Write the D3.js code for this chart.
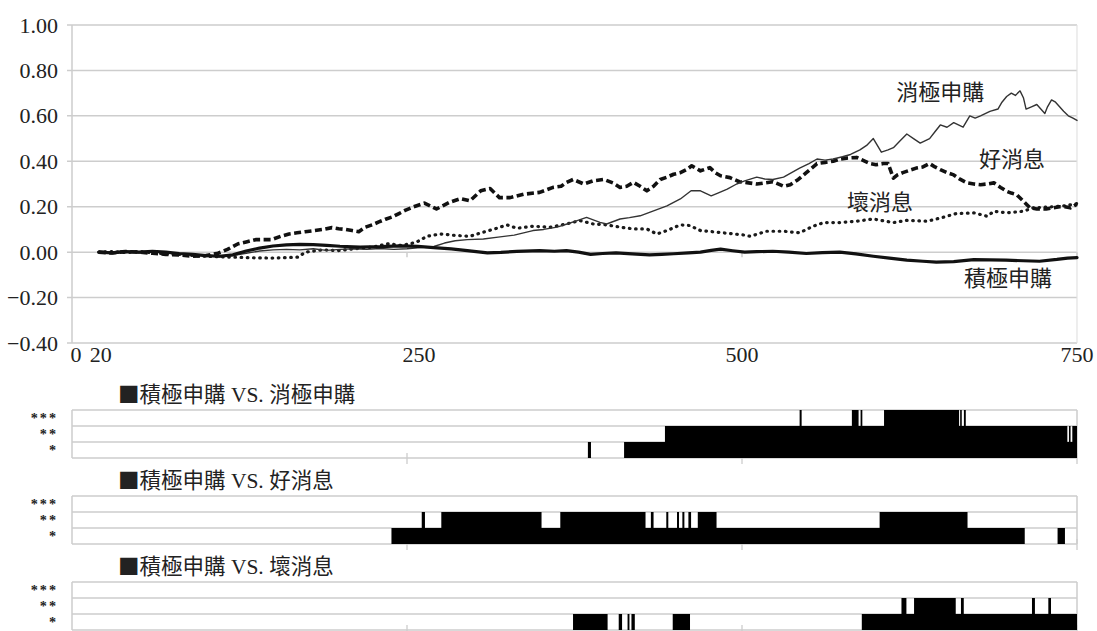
<!DOCTYPE html>
<html>
<head>
<meta charset="utf-8">
<script src="https://cdn.jsdelivr.net/npm/d3@7"></script>
<style>
  html, body { margin: 0; padding: 0; background: #fff; }
  svg { display: block; }
  .serif { font-family: "Liberation Serif", "Times New Roman", Times, "DejaVu Serif", serif; }
  .cjk { font-family: "Noto Sans CJK TC", "Noto Sans CJK SC", sans-serif; }
</style>
</head>
<body>
<svg id="chart" width="1097" height="631"></svg>
<script>
// ---- cumulative return series: [trading day, value] ----
const activeBuy = [[20,0],[30,-0.003],[40,0.002],[50,0],[60,0.004],[70,0],[80,-0.006],[90,-0.01],[100,-0.015],[110,-0.018],[120,-0.012],[130,0.005],[140,0.018],[150,0.027],[160,0.032],[170,0.034],[180,0.033],[190,0.03],[200,0.026],[215,0.022],[230,0.024],[245,0.028],[258,0.025],[270,0.02],[283,0.014],[295,0.007],[310,-0.003],[320,-0.001],[332,0.003],[349,0.007],[360,0.004],[369,0.007],[378,0],[387,-0.01],[396,-0.006],[406,-0.003],[418,-0.008],[431,-0.012],[440,-0.01],[449,-0.007],[460,-0.003],[469,0],[477,0.008],[484,0.013],[493,0.006],[502,0],[511,0.002],[523,0.004],[535,0],[548,-0.006],[560,-0.002],[573,0],[585,-0.008],[598,-0.018],[610,-0.026],[623,-0.035],[635,-0.04],[645,-0.044],[658,-0.042],[673,-0.033],[685,-0.034],[697,-0.035],[710,-0.038],[722,-0.04],[735,-0.032],[743,-0.026],[750,-0.024]];

const passiveBuy = [[20,0],[30,-0.005],[40,0.002],[50,-0.004],[60,0.003],[70,-0.003],[80,-0.008],[90,-0.012],[100,-0.016],[110,-0.02],[120,-0.015],[130,-0.005],[140,0.005],[150,0.01],[160,0.012],[170,0.01],[180,0.015],[190,0.008],[200,0.012],[210,0.015],[220,0.012],[230,0.016],[240,0.012],[250,0.015],[260,0.02],[270,0.025],[278,0.04],[286,0.05],[295,0.055],[307,0.058],[318,0.066],[330,0.075],[337,0.085],[344,0.095],[352,0.1],[362,0.11],[370,0.125],[377,0.139],[384,0.153],[390,0.14],[394,0.131],[399,0.124],[404,0.135],[409,0.146],[416,0.152],[424,0.16],[434,0.182],[444,0.204],[454,0.234],[462,0.27],[469,0.27],[477,0.248],[482,0.26],[489,0.277],[496,0.3],[502,0.314],[511,0.33],[517,0.322],[523,0.32],[531,0.33],[537,0.35],[543,0.37],[550,0.39],[556,0.41],[562,0.405],[568,0.41],[575,0.42],[581,0.43],[588,0.45],[593,0.47],[598,0.5],[604,0.44],[609,0.45],[613,0.46],[618,0.49],[623,0.52],[628,0.5],[633,0.48],[640,0.5],[644,0.53],[648,0.56],[653,0.55],[658,0.57],[665,0.55],[670,0.6],[674,0.59],[678,0.6],[685,0.62],[691,0.63],[694,0.66],[697.5,0.685],[701,0.7],[704,0.69],[707.5,0.71],[710,0.68],[712,0.63],[716,0.64],[720,0.65],[723,0.63],[726,0.61],[728,0.64],[731,0.67],[734,0.66],[737,0.64],[740,0.62],[743.5,0.6],[747,0.59],[750,0.58]];

const goodNews = [[20,0],[30,-0.004],[40,0.003],[50,0],[60,-0.005],[70,-0.01],[80,-0.012],[90,-0.018],[100,-0.015],[109,-0.005],[116,0.012],[124,0.037],[130,0.045],[137,0.055],[143,0.055],[149,0.055],[156,0.07],[162,0.08],[168,0.085],[174,0.09],[181,0.095],[187,0.1],[194,0.108],[199,0.103],[204,0.1],[209,0.095],[214,0.09],[219,0.11],[224,0.12],[229,0.133],[234,0.145],[239,0.155],[244,0.17],[249,0.185],[255,0.2],[263,0.216],[272,0.19],[277,0.205],[282,0.22],[290,0.236],[297,0.226],[305,0.27],[312,0.28],[319,0.24],[327,0.24],[337,0.255],[349,0.263],[359,0.285],[365,0.29],[369,0.307],[374,0.32],[378,0.31],[382,0.3],[389,0.314],[397,0.32],[404,0.304],[409,0.285],[414,0.29],[419,0.307],[424,0.29],[429,0.27],[434,0.29],[439,0.32],[444,0.33],[449,0.343],[454,0.35],[459,0.365],[462.5,0.38],[469,0.358],[476,0.372],[480,0.35],[484,0.336],[491,0.328],[498,0.31],[505,0.305],[511,0.3],[517,0.305],[523,0.31],[531,0.29],[536,0.297],[542,0.32],[548,0.35],[552,0.37],[556,0.39],[562,0.395],[568,0.4],[573,0.41],[578,0.414],[585.5,0.417],[590,0.405],[595.5,0.39],[600,0.385],[605.5,0.39],[609,0.39],[613,0.326],[616,0.34],[620,0.35],[625,0.36],[630,0.37],[635,0.375],[640,0.39],[644,0.375],[648,0.363],[653,0.35],[658,0.34],[663,0.32],[668,0.305],[673,0.3],[678,0.297],[683,0.3],[688,0.305],[693,0.285],[697.5,0.268],[701,0.26],[705,0.253],[710,0.224],[715,0.195],[720,0.19],[727,0.19],[732,0.195],[737,0.2],[741,0.2],[745,0.195],[748,0.205],[750,0.21]];

const badNews = [[20,0],[30,0.003],[40,-0.002],[50,0.002],[60,-0.003],[70,-0.008],[80,-0.01],[90,-0.015],[100,-0.018],[110,-0.02],[119,-0.022],[130,-0.024],[137,-0.025],[149,-0.026],[160,-0.024],[169,-0.022],[174,0],[187,0.01],[199,0.007],[211,0.015],[224,0.022],[236,0.037],[245,0.03],[251,0.035],[257,0.044],[265,0.07],[275,0.08],[287,0.073],[297,0.07],[307,0.088],[317,0.105],[324.5,0.12],[332,0.105],[344,0.114],[357,0.11],[369,0.124],[379,0.139],[389,0.124],[399,0.12],[409,0.11],[419,0.102],[429,0.102],[436.5,0.08],[444,0.095],[454,0.12],[461,0.117],[469,0.095],[481,0.088],[494,0.08],[502,0.075],[506,0.07],[512,0.08],[518,0.092],[531,0.092],[543,0.085],[553,0.114],[561,0.13],[573,0.13],[585.5,0.136],[598,0.146],[613,0.13],[623,0.14],[638,0.136],[648,0.15],[660,0.17],[673,0.173],[683,0.158],[688,0.18],[697.5,0.173],[710,0.18],[717.5,0.195],[732,0.2],[742,0.205],[750,0.214]];

// ---- axes ----
const yTicks = [1.0, 0.8, 0.6, 0.4, 0.2, 0.0, -0.2, -0.4];
const xTickLabels = [0, 20, 250, 500, 750];
const xMinorTicks = [250, 500, 750];
// horizontal nudge (px) for labels that sit off their tick
const xLabelNudge = { 0: 4, 20: 2, 250: 12 };

// ---- series labels: [name, day, value at text baseline] ----
const seriesLabels = [["消極申購", 648, 0.67], ["好消息", 701.5, 0.374], ["壞消息", 603, 0.185], ["積極申購", 698.5, -0.15]];

// ---- significance panels: row label -> [start day, end day] intervals ----
const levels = ["***", "**", "*"];
const panelTitles = ["積極申購 VS. 消極申購", "積極申購 VS. 好消息", "積極申購 VS. 壞消息"];
const sigPassive = {
  "***": [[543,544.5],[582,587],[588.5,589.8],[606,662],[662.8,664],[665.6,667]],
  "**":  [[442.5,742.8],[744,745.2],[746.5,750]],
  "*":   [[385,387.3],[412,750]]
};
const sigGood = {
  "***": [],
  "**":  [[261,263.4],[275.6,350.4],[364.4,428],[432,434],[443.5,445],[451.5,453],[455.5,457],[460,462],[467,481],[602.7,668.3]],
  "*":   [[238.4,711],[735.5,741]]
};
const sigBad = {
  "***": [],
  "**":  [[619,622.7],[628.4,659.5],[663.4,665.5],[716.4,718.6],[728.6,730.6]],
  "*":   [[373.9,399.7],[408,410.5],[414.6,416],[417.5,420],[448.3,461.2],[589.4,750]]
};
const sigData = [sigPassive, sigGood, sigBad];

const svg = d3.select("#chart");
const plotL = 72, plotR = 1077, plotT = 25, plotB = 343;
const grid = "#cdcdcd";

const x = d3.scaleLinear().domain([0, 750]).range([plotL, plotR]);
const y = d3.scaleLinear().domain([-0.4, 1.0]).range([plotB, plotT]);

// ---- main chart frame ----
const g = svg.append("g");
g.selectAll("line.grid").data(yTicks).join("line")
  .attr("class", "grid")
  .attr("x1", plotL - 5).attr("x2", plotR)
  .attr("y1", d => y(d)).attr("y2", d => y(d))
  .attr("stroke", grid).attr("stroke-width", 1.5);
g.append("line").attr("x1", plotL).attr("x2", plotL).attr("y1", plotT).attr("y2", plotB)
  .attr("stroke", grid).attr("stroke-width", 1.5);
g.append("line").attr("x1", plotR).attr("x2", plotR).attr("y1", plotT).attr("y2", plotB)
  .attr("stroke", "#e2e2e2").attr("stroke-width", 1.2);

// tick marks on the zero line
g.selectAll("line.xt").data(xMinorTicks).join("line")
  .attr("class", "xt")
  .attr("x1", d => x(d)).attr("x2", d => x(d))
  .attr("y1", y(0)).attr("y2", y(0) + 5)
  .attr("stroke", grid).attr("stroke-width", 1.5);

// y tick labels
g.selectAll("text.yl").data(yTicks).join("text")
  .attr("class", "yl serif")
  .attr("x", 58).attr("y", d => y(d) + 7.5)
  .attr("text-anchor", "end")
  .attr("font-size", 22).attr("fill", "#222")
  .text(d => d3.format(".2f")(d));

// x tick labels
g.selectAll("text.xl").data(xTickLabels).join("text")
  .attr("class", "xl serif")
  .attr("x", d => x(d) + (xLabelNudge[d] || 0))
  .attr("y", 362)
  .attr("text-anchor", "middle")
  .attr("font-size", 22).attr("fill", "#222")
  .text(d => d);

// ---- series ----
const line = d3.line().x(d => x(d[0])).y(d => y(d[1])).curve(d3.curveLinear);
const seriesStyle = [
  { data: badNews,    width: 3.2, dash: "0.6,5.6", cap: "round", color: "#1a1a1a" },
  { data: goodNews,   width: 3.6, dash: "7,3.5",   cap: "butt",  color: "#111" },
  { data: passiveBuy, width: 1.4, dash: null,      cap: "round", color: "#333" },
  { data: activeBuy,  width: 3.2, dash: null,      cap: "round", color: "#111" }
];
g.selectAll("path.series").data(seriesStyle).join("path")
  .attr("class", "series")
  .attr("d", d => line(d.data))
  .attr("fill", "none")
  .attr("stroke", d => d.color)
  .attr("stroke-width", d => d.width)
  .attr("stroke-linecap", d => d.cap)
  .attr("stroke-linejoin", "round")
  .attr("stroke-dasharray", d => d.dash);

g.selectAll("text.sl").data(seriesLabels).join("text")
  .attr("class", "sl cjk")
  .attr("x", d => x(d[1])).attr("y", d => y(d[2]))
  .attr("text-anchor", "middle")
  .attr("font-size", 22).attr("fill", "#222")
  .text(d => d[0]);

// ---- significance panels ----
const rowH = 16;
const panelTops = [410, 496, 582];
panelTitles.forEach((title, i) => {
  const top = panelTops[i];
  const p = svg.append("g");
  const bottom = top + rowH * levels.length;

  const t = p.append("text")
    .attr("x", 118).attr("y", top - 8)
    .attr("font-size", 21.5).attr("fill", "#222");
  const parts = title.split(" VS. ");
  t.append("tspan").attr("class", "cjk").text("■" + parts[0]);
  t.append("tspan").attr("class", "serif").text(" VS. ");
  t.append("tspan").attr("class", "cjk").text(parts[1]);

  // row lines
  d3.range(levels.length + 1).forEach(k => {
    p.append("line").attr("x1", plotL).attr("x2", plotR)
      .attr("y1", top + k * rowH).attr("y2", top + k * rowH)
      .attr("stroke", grid).attr("stroke-width", 1.5);
  });
  p.append("line").attr("x1", plotL).attr("x2", plotL).attr("y1", top).attr("y2", bottom)
    .attr("stroke", grid).attr("stroke-width", 1.5);
  p.append("line").attr("x1", plotR).attr("x2", plotR).attr("y1", top).attr("y2", bottom)
    .attr("stroke", grid).attr("stroke-width", 1.5);
  p.selectAll("line.pt").data(xMinorTicks).join("line")
    .attr("class", "pt")
    .attr("x1", d => x(d)).attr("x2", d => x(d))
    .attr("y1", bottom - 5).attr("y2", bottom + 6)
    .attr("stroke", grid).attr("stroke-width", 1.3);

  // significance level labels, one per row
  levels.forEach((lv, r) => {
    p.append("text")
      .attr("class", "serif")
      .attr("x", 58).attr("y", top + r * rowH + rowH / 2)
      .attr("text-anchor", "end")
      .attr("dominant-baseline", "central")
      .attr("font-size", 14.2).attr("font-weight", "bold")
      .attr("letter-spacing", 2).attr("fill", "#222")
      .text(lv);
  });

  levels.forEach((lv, r) => {
    const ry = top + r * rowH;
    p.selectAll("rect.r" + r).data(sigData[i][lv]).join("rect")
      .attr("class", "r" + r)
      .attr("x", d => x(d[0]))
      .attr("width", d => Math.max(1.6, x(d[1]) - x(d[0])))
      .attr("y", ry).attr("height", rowH)
      .attr("fill", "#000");
  });
});
</script>
</body>
</html>
